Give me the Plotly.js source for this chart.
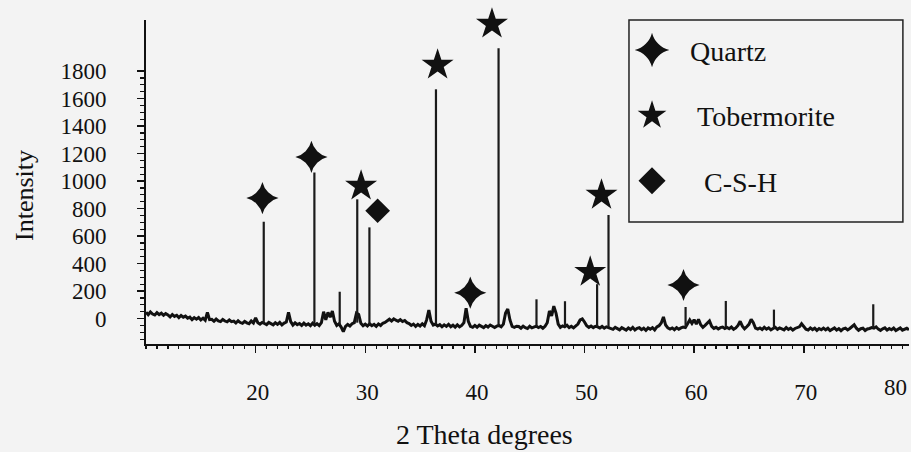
<!DOCTYPE html>
<html><head><meta charset="utf-8">
<script src="https://cdn.plot.ly/plotly-3.0.1.min.js"></script>
<style>html,body{margin:0;padding:0;background:#f3f3f3;} #chart{width:911px;height:452px;}</style>
</head><body><div id="chart"></div>
<script>
// XRD scan: start angle, step (2θ degrees) and intensity
const scanStart = 10.0;
const scanStep = 0.2;
const scanIntensity = [
  46, 28, 48, 33, 26, 43, 29, 39, 24, 36,
  27, 12, 29, 16, 24, 7, 22, 10, 18, 3,
  10, -8, 7, -4, 8, -10, 3, -12, 44, -8,
  -6, -20, -4, -17, -22, -7, -18, -24, -10, -22,
  -18, -32, -16, -29, -35, -20, -31, -38, -18, -32,
  5, -30, -40, -28, -36, -44, -28, -40, -46, -30,
  -42, -28, -46, -33, -25, 45, -22, -47, -31, -44,
  -36, -50, -33, -48, -38, -52, -34, -49, -37, -51,
  -30, 50, -10, 45, 10, 55, -20, -50, -38, -62,
  -95, -57, -43, -54, -38, -30, 40, 30, -35, -52,
  -40, -54, -38, -52, -42, -57, -39, -51, -34, -28,
  -15, -5, -18, -2, -12, -20, -8, -22, -14, -30,
  -36, -50, -40, -57, -43, -54, -38, -52, -10, 62,
  -20, -47, -40, -54, -44, -60, -46, -57, -42, -59,
  -48, -62, -46, -60, -50, -30, 75, -20, -57, -64,
  -50, -63, -48, -60, -66, -51, -62, -47, -59, -65,
  -55, -50, -60, -40, 40, 70, -10, -57, -64, -56,
  -58, -70, -55, -67, -72, -56, -68, -60, -55, -66,
  -58, -70, -56, -30, 55, 20, 90, 40, -40, -64,
  -53, -60, -48, -66, -56, -68, -50, -40, -10, -2,
  -25, -52, -64, -54, -66, -56, -60, -68, -57, -70,
  -60, -66, -72, -78, -64, -76, -82, -66, -77, -84,
  -68, -80, -64, -83, -71, -67, -81, -70, -86, -68,
  -77, -66, -82, -60, -52, -32, 12, -47, -68, -76,
  -68, -81, -66, -78, -68, -62, -66, -40, -10, -35,
  -8, -40, -5, -45, -64, -50, -30, -18, -57, -72,
  -64, -76, -66, -62, -72, -65, -74, -62, -78, -68,
  -50, -20, -55, -74, -60, -42, -5, -30, -70, -76,
  -68, -80, -64, -77, -67, -82, -72, -64, -78, -68,
  -75, -82, -66, -79, -69, -84, -72, -67, -60, -38,
  -62, -77, -83, -68, -80, -70, -86, -72, -81, -69,
  -82, -71, -87, -74, -68, -84, -73, -88, -75, -70,
  -83, -72, -60, -45, -70, -85, -74, -70, -87, -76,
  -72, -66, -70, -60, -77, -86, -75, -68, -84, -72,
  -81, -69, -87, -74, -68, -84, -75, -71, -82
];

// sharp diffraction peaks: position, apex and foot intensity
const peakTheta = [20.74, 25.36, 27.67, 29.27, 30.38, 36.45, 42.16, 45.62, 48.22, 51.15, 52.19, 59.22, 62.89, 67.28, 76.34];
const peakTop   = [704, 1062, 195, 867, 663, 1667, 1965, 140, 126, 250, 753, 84, 128, 65, 104];
const peakBase  = [-36, -45, -45, -30, -42, -42, -52, -58, -55, -60, -62, -64, -66, -70, -68];

// phase identification symbols
const quartzTheta = [20.62, 25.09, 39.58, 59.03];
const quartzI     = [876, 1175, 188, 244];
const tobermoriteTheta = [29.62, 36.6, 41.56, 50.52, 51.55];
const tobermoriteI     = [964, 1844, 2142, 338, 898];
const cshTheta = [31.13];
const cshI     = [784];

const phaseNames = ['Quartz', '\u00a0Tobermorite', '\u00a0\u00a0C-S-H'];
const xTickVals = [20, 30, 40, 50, 60, 70];
const lastXTickLabel = '80';
const yTickVals = [0, 200, 400, 600, 800, 1000, 1200, 1400, 1600, 1800];
const xTitle = '2 Theta degrees';
const yTitle = 'Intensity';

// build spike segments from the peak arrays
const spikeX = [], spikeY = [];
peakTheta.forEach((t, i) => { spikeX.push(t, t, null); spikeY.push(peakBase[i], peakTop[i], null); });

// minor y ticks every 50 below the last label
const yMinor = [];
for (let v = -150; v <= 1800; v += 50) if (v % 200 !== 0) yMinor.push(v);

const ink = '#111111';
const serif = 'Liberation Serif, Times New Roman, serif';

const traces = [
  {type: 'scatter', mode: 'lines', x0: scanStart, dx: scanStep, y: scanIntensity,
   line: {color: ink, width: 3}, showlegend: false, hoverinfo: 'skip'},
  {type: 'scatter', mode: 'lines', x: spikeX, y: spikeY, connectgaps: false,
   line: {color: '#1a1a1a', width: 2.2}, showlegend: false, hoverinfo: 'skip'},
  {type: 'scatter', mode: 'markers', name: phaseNames[0], legendgroup: 'q', x: quartzTheta, y: quartzI,
   marker: {symbol: 'star-diamond', size: 23, color: ink}, cliponaxis: false},
  {type: 'scatter', mode: 'markers', name: phaseNames[1], legendgroup: 't', x: tobermoriteTheta, y: tobermoriteI,
   marker: {symbol: 'star', size: 24, color: ink}, cliponaxis: false},
  {type: 'scatter', mode: 'markers', name: phaseNames[2], legendgroup: 'c', x: cshTheta, y: cshI,
   marker: {symbol: 'diamond', size: 19, color: ink}, cliponaxis: false}
];

const layout = {
  width: 911, height: 452, autosize: false,
  margin: {l: 146, r: 2, t: 20, b: 108, pad: 0},
  paper_bgcolor: '#f3f3f3', plot_bgcolor: '#f3f3f3',
  font: {family: serif, color: ink, size: 23},
  showlegend: true,
  legend: {x: 0.6134, y: 0.9836, xanchor: 'left', yanchor: 'top', bgcolor: 'rgba(0,0,0,0)',
           borderwidth: 0, font: {family: serif, size: 28, color: ink},
           itemwidth: 66, tracegroupgap: 26, traceorder: 'grouped'},
  xaxis: {range: [10, 79.6], showgrid: false, zeroline: false, showline: true, linecolor: ink, linewidth: 2,
          tickmode: 'array', tickvals: xTickVals, ticks: 'outside', ticklen: 7, tickwidth: 1.5, tickcolor: ink,
          ticklabelstandoff: 19, ticklabelshift: 2, tickfont: {family: serif, size: 23, color: ink},
          minor: {tickmode: 'linear', tick0: 10, dtick: 1, ticks: 'outside', ticklen: 3, tickwidth: 1.2, tickcolor: ink}},
  yaxis: {range: [-185, 2171], showgrid: false, zeroline: false, showline: true, linecolor: ink, linewidth: 2,
          tickmode: 'array', tickvals: yTickVals, ticks: 'outside', ticklen: 7, tickwidth: 1.5, tickcolor: ink,
          ticklabelstandoff: 26, tickfont: {family: serif, size: 23, color: ink},
          minor: {tickmode: 'array', tickvals: yMinor, ticks: 'outside', ticklen: 4, tickwidth: 1.2, tickcolor: ink}},
  shapes: [
    {type: 'rect', xref: 'paper', yref: 'paper', x0: 0.633, x1: 0.992, y0: 0.3765, y1: 1.0,
     line: {color: '#222', width: 1.5}, fillcolor: 'rgba(0,0,0,0)'}
  ],
  annotations: [
    {text: xTitle, xref: 'paper', yref: 'paper', x: 0.443, y: -0.278, xanchor: 'center', yanchor: 'middle',
     showarrow: false, font: {family: serif, size: 28, color: ink}},
    {text: yTitle, xref: 'paper', yref: 'paper', x: -0.1586, y: 0.46, xanchor: 'center', yanchor: 'middle',
     textangle: -90, showarrow: false, font: {family: serif, size: 26, color: ink}},
    {text: lastXTickLabel, xref: 'paper', yref: 'paper', x: 1, y: -0.1358, xanchor: 'right', yanchor: 'middle',
     showarrow: false, font: {family: serif, size: 23, color: ink}}
  ]
};

const legendSymbolScale = [1.55, 1.35, 1.3];
Plotly.newPlot('chart', traces, layout, {displayModeBar: false, staticPlot: true}).then(gd => {
  gd.querySelectorAll('.legend .traces').forEach((g, i) => {
    g.querySelectorAll('.legendpoints path.scatterpts').forEach(p => {
      const t = p.getAttribute('transform') || '';
      p.setAttribute('transform', t + ' scale(' + (legendSymbolScale[i] || 1.3) + ')');
    });
  });
});
</script></body></html>
